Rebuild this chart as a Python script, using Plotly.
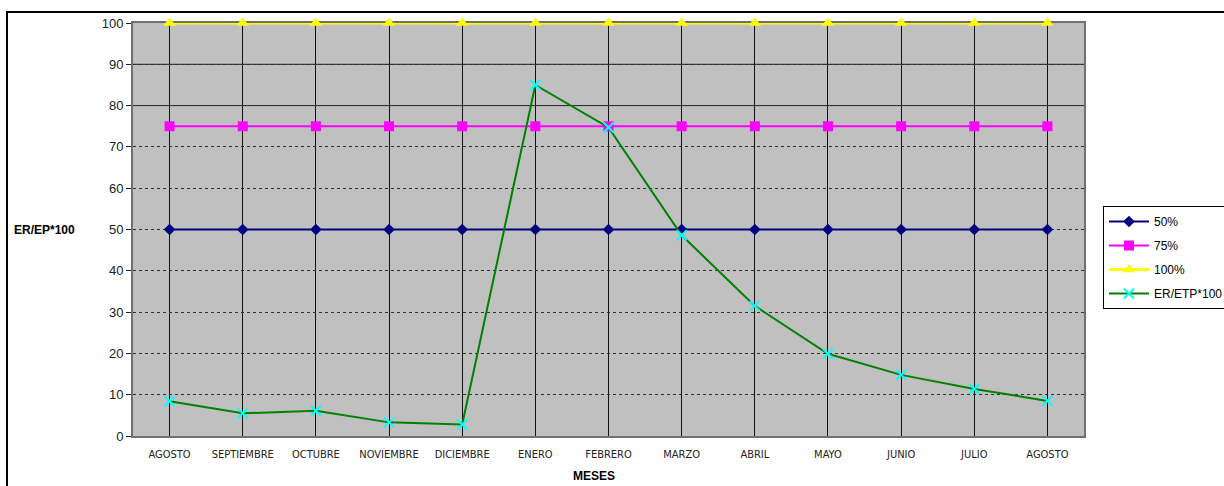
import plotly.graph_objects as go

# Months along the horizontal axis (August to August)
meses = ["AGOSTO", "SEPTIEMBRE", "OCTUBRE", "NOVIEMBRE", "DICIEMBRE", "ENERO",
         "FEBRERO", "MARZO", "ABRIL", "MAYO", "JUNIO", "JULIO", "AGOSTO"]

# Reference levels
nivel_50 = [50] * 13
nivel_75 = [75] * 13
nivel_100 = [100] * 13

# Ratio ER/ETP*100 per month
er_etp = [8.4, 5.5, 6.1, 3.3, 2.8, 85.0, 74.7, 48.6, 31.5, 19.9, 14.8, 11.4, 8.5]

x_idx = list(range(len(meses)))

fig = go.Figure()

fig.add_trace(go.Scatter(
    x=x_idx, y=nivel_50, name="50%", mode="lines+markers", legendgroup="a",
    line=dict(color="#000080", width=2),
    marker=dict(symbol="diamond", size=9, color="#000080"),
    cliponaxis=False))
fig.add_trace(go.Scatter(
    x=x_idx, y=nivel_75, name="75%", mode="lines+markers", legendgroup="b",
    line=dict(color="#FF00FF", width=2),
    marker=dict(symbol="square", size=10, color="#FF00FF"),
    cliponaxis=False))
fig.add_trace(go.Scatter(
    x=x_idx, y=nivel_100, name="100%", mode="lines+markers", legendgroup="c",
    line=dict(color="#FFFF00", width=3),
    marker=dict(symbol="triangle-up", size=11, color="#FFFF00"),
    cliponaxis=False))
fig.add_trace(go.Scatter(
    x=x_idx, y=er_etp, name="ER/ETP*100", mode="lines+markers", legendgroup="d",
    line=dict(color="#008000", width=2),
    marker=dict(symbol="x-thin", size=10, line=dict(color="#00FFFF", width=2)),
    cliponaxis=False))

# Plot area spans pixels x 133..1084, y 23..436
L, R, T, B = 133, 140, 23, 50
W, H = 1224, 486
pw, ph = W - L - R, H - T - B

def px(xp):
    return (xp - L) / pw

def py(yp):
    return (H - B - yp) / ph

shapes = []
# Solid gridlines at 80 and 90
for v in (80, 90):
    shapes.append(dict(type="line", xref="paper", yref="y", x0=0, x1=1, y0=v, y1=v,
                       line=dict(color="#202020", width=1), layer="below"))
# Outer chart frame
shapes.append(dict(type="rect", xref="paper", yref="paper",
                   x0=px(7), x1=px(1230), y0=py(12), y1=py(492),
                   line=dict(color="black", width=2), layer="below"))

fig.update_layout(
    width=W, height=H,
    margin=dict(l=L, r=R, t=T, b=B, pad=0, autoexpand=False),
    paper_bgcolor="white",
    plot_bgcolor="#C0C0C0",
    font=dict(family="Liberation Sans, Arial, sans-serif", color="black", size=12),
    showlegend=True,
    legend=dict(
        x=px(1103), y=py(206), xanchor="left", yanchor="top",
        bgcolor="white", bordercolor="black", borderwidth=1,
        font=dict(size=12, family="Liberation Sans, Arial, sans-serif"),
        traceorder="grouped", tracegroupgap=5, itemwidth=40,
    ),
    xaxis=dict(
        range=[-0.5, 12.5],
        tickmode="array", tickvals=x_idx, ticktext=meses,
        tickfont=dict(family="DejaVu Sans Condensed, Liberation Sans Narrow, sans-serif",
                      size=11, color="#222"),
        showgrid=True, gridcolor="#111", gridwidth=1,
        showline=True, linecolor="#707070", linewidth=2, mirror=True,
        ticks="", zeroline=False, ticklabelstandoff=7,
        layer="below traces",
    ),
    yaxis=dict(
        range=[0, 100], dtick=10,
        showgrid=True, gridcolor="#303030", gridwidth=1, griddash="dot",
        showline=True, linecolor="#707070", linewidth=2, mirror=True,
        ticks="outside", ticklen=5, tickcolor="#202020",
        tickfont=dict(size=13, color="#222"),
        zeroline=False, layer="below traces",
    ),
    shapes=shapes,
    annotations=[
        dict(text="<b>ER/EP*100</b>", xref="paper", yref="paper",
             x=px(12), y=py(230), xanchor="left", yanchor="middle",
             showarrow=False, font=dict(size=12)),
        dict(text="<b>MESES</b>", xref="paper", yref="paper",
             x=px(594), y=py(476), xanchor="center", yanchor="middle",
             showarrow=False, font=dict(size=12)),
    ],
)

fig.write_html("out.html")
